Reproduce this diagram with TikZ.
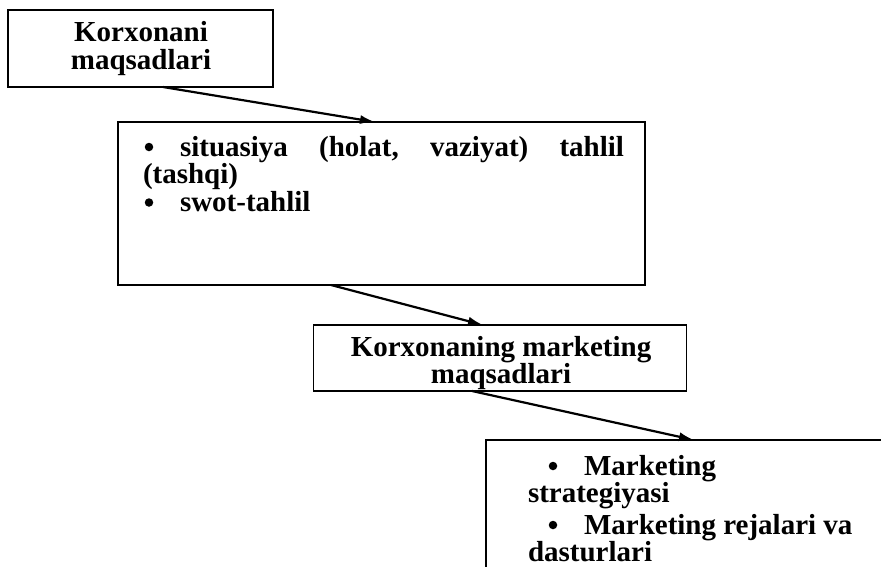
\documentclass[tikz,border=0pt]{standalone}
\usepackage{fontspec}
\setmainfont{Liberation Serif}
\usetikzlibrary{arrows.meta}
\newcommand{\tightlines}[1]{\fontsize{29}{#1}\selectfont\lineskiplimit=-60pt\lineskip=0pt\parindent=0pt}
\begin{document}
\begin{tikzpicture}[x=1pt,y=-1pt,
  boxnode/.style={draw=black,line width=1.5pt,inner sep=0pt,outer sep=0pt,fill=none},
  txt/.style={inner sep=0pt,outer sep=0pt,font=\bfseries},
  dot/.style={circle,fill=black,draw=none,inner sep=0pt,minimum size=8.5pt},
  conn/.style={draw=black,line width=2.2pt,-{Latex[length=15pt,width=9pt]}}]
\useasboundingbox (0,0) rectangle (881,566);
\clip (0,0) rectangle (881,566);
\fill[white] (0,0) rectangle (881,566);
% boxes
\node[boxnode,minimum width=265pt,minimum height=77pt] (b1) at (140.5,48.5) {};
\node[boxnode,minimum width=527pt,minimum height=163pt] (b2) at (381.5,203.5) {};
\node[boxnode,minimum width=373pt,minimum height=66pt] (b3) at (500,358) {};
\node[boxnode,minimum width=414pt,minimum height=180pt] (b4) at (693,530) {};
% box 1 text
\node[txt,anchor=base] (t1) at (141,41) {\parbox[t]{250pt}{\tightlines{28pt}\centering Korxonani\\maqsadlari}};
% box 2 text
\node[txt,anchor=base west] (t2) at (143,156) {\parbox[t]{481pt}{\tightlines{27.5pt}%
  \hbox to 481pt{\hspace{37pt}situasiya\hfill(holat,\hfill vaziyat)\hfill tahlil}
  \hbox{(tashqi)}
  \hbox{\hspace{37pt}swot-tahlil}}};
\node[dot] (d1) at (149,147) {};
\node[dot] (d2) at (149,202.5) {};
% box 3 text
\node[txt,anchor=base] (t3) at (501,356) {\parbox[t]{360pt}{\tightlines{27pt}\centering Korxonaning marketing\\maqsadlari}};
% box 4 text
\node[txt,anchor=base west] (t4) at (528,475) {\parbox[t]{340pt}{\tightlines{27pt}%
  \hbox{\hspace{56pt}Marketing}
  \hbox{strategiyasi}
  \kern5pt
  \hbox{\hspace{56pt}Marketing rejalari va}
  \hbox{dasturlari}}};
\node[dot] (d3) at (553,466) {};
\node[dot] (d4) at (553,525) {};
% connectors
\draw[conn] ([xshift=155pt]b1.south west) -- ([xshift=257pt]b2.north west);
\draw[conn] ([xshift=213pt]b2.south west) -- ([xshift=169.5pt]b3.north west);
\draw[conn] ([xshift=158.5pt]b3.south west) -- ([xshift=208pt]b4.north west);
\end{tikzpicture}
\end{document}
